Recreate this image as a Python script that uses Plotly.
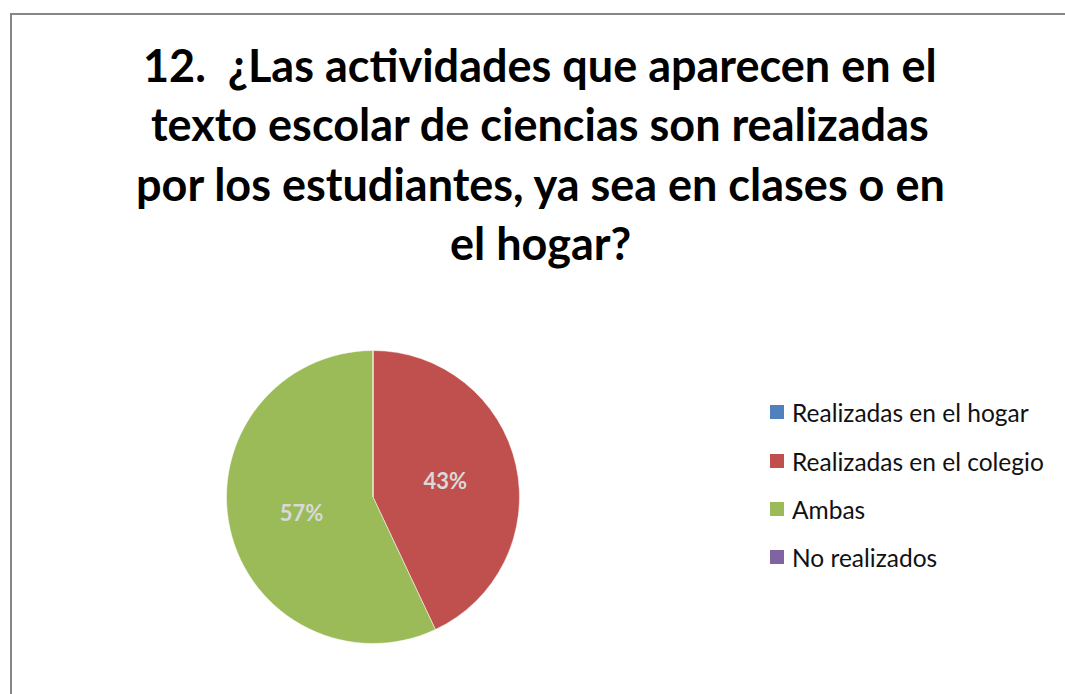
import plotly.graph_objects as go

categories = ["Realizadas en el hogar", "Realizadas en el colegio", "Ambas", "No realizados"]
values = [0, 43, 57, 0]
colors = ["#4F81BD", "#C0504D", "#9BBB59", "#8064A2"]
title_lines = [
    "12.  ¿Las actividades que aparecen en el",
    "texto escolar de ciencias son realizadas",
    "por los estudiantes, ya sea en clases o en",
    "el hogar?",
]

W, H = 1065, 694
labels_text = [f"{v}%" if v else "" for v in values]

fig = go.Figure()
fig.add_trace(go.Pie(
    labels=categories,
    values=values,
    text=labels_text,
    textinfo="text",
    textposition="inside",
    insidetextorientation="horizontal",
    textfont=dict(family="Lato", size=22, color="#D9D9D9", weight="bold"),
    marker=dict(colors=colors, line=dict(color="#FFFFFF", width=0.5)),
    sort=False,
    direction="clockwise",
    rotation=0,
    showlegend=False,
    hoverinfo="label+percent",
    domain=dict(x=[(373 - 146.5) / W, (373 + 146.5) / W],
                y=[1 - 643.5 / H, 1 - 350.5 / H]),
))

annotations = []
line_y = [65, 124, 184, 243]
for txt, yy in zip(title_lines, line_y):
    annotations.append(dict(
        text=txt, x=540 / W, y=1 - yy / H, xref="paper", yref="paper",
        xanchor="center", yanchor="middle", showarrow=False,
        font=dict(family="Lato", size=45, color="#000000", weight="bold"),
    ))

shapes = [dict(type="rect", xref="paper", yref="paper",
               x0=11 / W, x1=1.05, y0=-0.05, y1=1 - 14 / H,
               line=dict(color="#868686", width=2), fillcolor="rgba(0,0,0,0)")]

leg_y = [412, 461, 509, 557]
for cat, col, yy in zip(categories, colors, leg_y):
    shapes.append(dict(type="rect", xref="paper", yref="paper",
                       x0=770 / W, x1=784 / W, y0=1 - (yy + 7) / H, y1=1 - (yy - 7) / H,
                       line=dict(width=0), fillcolor=col))
    annotations.append(dict(
        text=cat, x=790 / W, y=1 - yy / H, xref="paper", yref="paper",
        xanchor="left", yanchor="middle", showarrow=False,
        font=dict(family="Lato", size=24.5, color="#111111"),
    ))

fig.update_layout(
    width=W, height=H,
    margin=dict(l=0, r=0, t=0, b=0),
    paper_bgcolor="#FFFFFF", plot_bgcolor="#FFFFFF",
    annotations=annotations, shapes=shapes,
)

fig.write_html(
    "out.html",
    config={"displayModeBar": False},
    post_script="document.body.style.margin='0';document.body.style.overflow='hidden';",
)
